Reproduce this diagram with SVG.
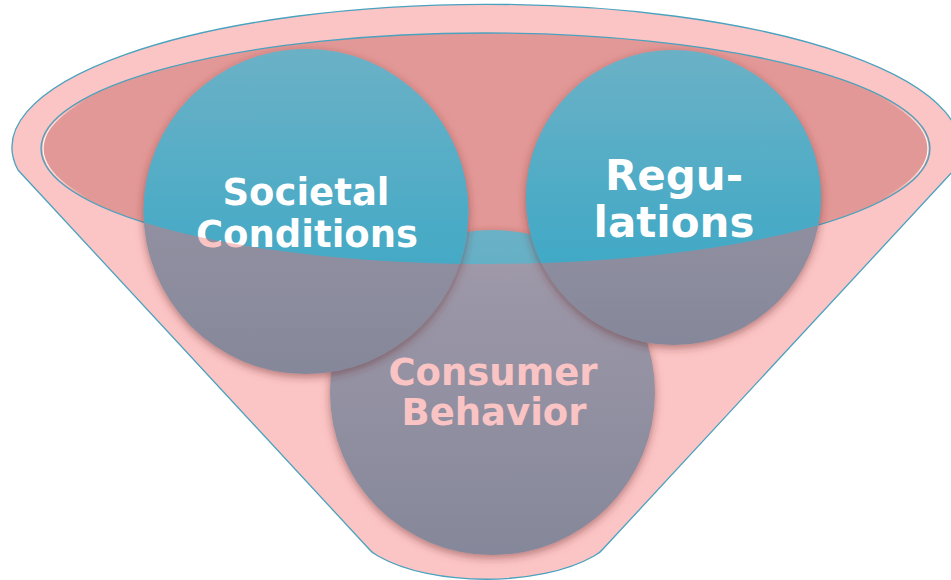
<svg xmlns="http://www.w3.org/2000/svg" width="951" height="580" viewBox="0 0 951 580">
  <style>
    .label { font-family: "DejaVu Sans", Verdana, "Liberation Sans", sans-serif; font-weight: bold; text-anchor: middle; }
    .rim { stroke: #4AA2BF; stroke-width: 1.3; }
  </style>
  <defs>
    <!-- opening of the funnel, reused for clipping and text colouring -->
    <clipPath id="mouth">
      <ellipse cx="485.5" cy="148.5" rx="444.5" ry="115.5"/>
    </clipPath>
    <linearGradient id="tealFill" x1="0" y1="0" x2="0" y2="1">
      <stop offset="0" stop-color="#6BB1C6"/>
      <stop offset="0.7" stop-color="#42A9C6"/>
      <stop offset="1" stop-color="#38A5C4"/>
    </linearGradient>
    <linearGradient id="greyFill" x1="0" y1="0" x2="0" y2="1">
      <stop offset="0" stop-color="#A29BAB"/>
      <stop offset="0.3" stop-color="#9894A5"/>
      <stop offset="1" stop-color="#85889A"/>
    </linearGradient>
    <linearGradient id="bevel" x1="0" y1="0" x2="1" y2="0">
      <stop offset="0" stop-color="#fff" stop-opacity="1"/>
      <stop offset="0.05" stop-color="#fff" stop-opacity="0"/>
      <stop offset="0.95" stop-color="#fff" stop-opacity="0"/>
      <stop offset="1" stop-color="#fff" stop-opacity="1"/>
    </linearGradient>
    <!-- white inside the opening, pink below it -->
    <pattern id="labelFill" patternUnits="userSpaceOnUse" x="0" y="0" width="951" height="580">
      <rect width="951" height="580" fill="#FBC4C4"/>
      <ellipse cx="485.5" cy="148.5" rx="444.5" ry="115.5" fill="#fff"/>
    </pattern>
    <filter id="shadow" x="-20%" y="-20%" width="140%" height="140%">
      <feDropShadow dx="0" dy="3" stdDeviation="4" flood-color="#6B2A2A" flood-opacity="0.5"/>
    </filter>
  </defs>

  <rect width="951" height="580" fill="#fff"/>

  <!-- funnel body -->
  <g id="funnel">
    <path class="rim" fill="#FCC5C5"
          d="M 18,170 A 474 143 0 1 1 954,170 L 603,549 Q 600,553 594,556 C 540,587 432,587 378,556 Q 372,553 369,549 Z"/>
    <ellipse class="rim" cx="485.5" cy="148.5" rx="444.5" ry="115.5" fill="#E29896"/>
    <ellipse cx="485.5" cy="148.5" rx="442.5" ry="113.5" fill="none" stroke="url(#bevel)" stroke-width="1.2"/>
  </g>

  <g id="connectors"/>

  <!-- Consumer Behavior -->
  <g id="node-consumer-behavior">
    <g filter="url(#shadow)">
      <circle cx="492.5" cy="392.5" r="162.5" fill="url(#greyFill)"/>
      <circle cx="492.5" cy="392.5" r="162.5" fill="url(#tealFill)" clip-path="url(#mouth)"/>
    </g>
    <text class="label" x="493" y="385" font-size="37" fill="#FBC4C4">Consumer</text>
    <text class="label" x="494" y="425" font-size="37" fill="#FBC4C4">Behavior</text>
  </g>

  <!-- Societal Conditions -->
  <g id="node-societal-conditions">
    <g filter="url(#shadow)">
      <circle cx="306" cy="211.5" r="162.5" fill="url(#greyFill)"/>
      <circle cx="306" cy="211.5" r="162.5" fill="url(#tealFill)" clip-path="url(#mouth)"/>
    </g>
    <text class="label" x="306" y="205" font-size="37" fill="url(#labelFill)">Societal</text>
    <text class="label" x="307" y="247" font-size="37" fill="url(#labelFill)">Conditions</text>
  </g>

  <!-- Regulations -->
  <g id="node-regulations">
    <g filter="url(#shadow)">
      <circle cx="673.5" cy="197.5" r="147.5" fill="url(#greyFill)"/>
      <circle cx="673.5" cy="197.5" r="147.5" fill="url(#tealFill)" clip-path="url(#mouth)"/>
    </g>
    <text class="label" x="674" y="190" font-size="42" fill="url(#labelFill)">Regu-</text>
    <text class="label" x="674" y="237" font-size="42" fill="url(#labelFill)">lations</text>
  </g>
</svg>
